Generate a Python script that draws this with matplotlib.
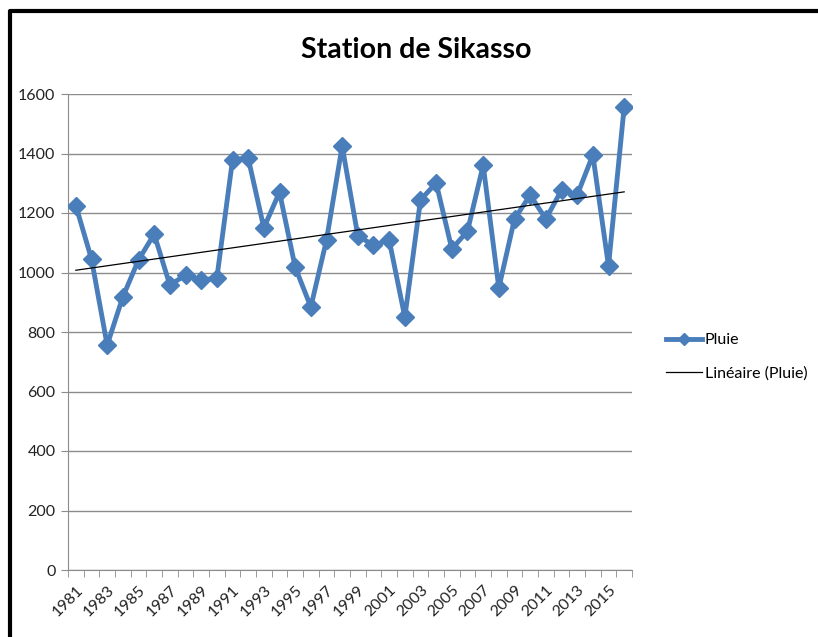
import numpy as np
import matplotlib
matplotlib.use('Agg')
import matplotlib.pyplot as plt
from matplotlib.lines import Line2D

plt.rcParams['font.family'] = ['Lato', 'DejaVu Sans']

# Annual rainfall, Sikasso station
years = list(range(1981, 2017))
pluie = [1225, 1045, 756, 918, 1042, 1129, 958, 991, 975, 981,
         1378, 1385, 1150, 1270, 1018, 884, 1109, 1425, 1123, 1092,
         1109, 850, 1244, 1301, 1079, 1139, 1361, 948, 1180, 1260,
         1180, 1277, 1260, 1395, 1022, 1556]
yticks = [0, 200, 400, 600, 800, 1000, 1200, 1400, 1600]

blue = '#4a7ebb'
W, H = 818, 637

fig = plt.figure(figsize=(W / 100, H / 100), dpi=100)
ax = fig.add_axes([68 / W, 1 - 570 / H, (632 - 68) / W, (570 - 94) / H])

x = np.arange(len(years))
ax.plot(x, pluie, color=blue, lw=3.5, marker='D', markersize=9.5, zorder=3)

# linear trend, like Excel's "Linéaire"
a, b = np.polyfit(x, pluie, 1)
ax.plot(x, a * x + b, color='black', lw=0.9, zorder=4)

ax.set_xlim(-0.5, len(years) - 0.5)
ax.set_ylim(0, 1600)
ax.set_yticks(yticks)
ax.yaxis.grid(True, color='#8c8c8c', lw=1)
ax.set_axisbelow(True)

ax.set_xticks(x[::2])
ax.set_xticklabels([str(y) for y in years[::2]], rotation=45, ha='right',
                   rotation_mode='anchor', fontsize=11.5, color='#222222')
ax.set_xticks(np.arange(-0.5, len(years), 1), minor=True)
ax.tick_params(axis='x', which='major', length=0, pad=9)
ax.tick_params(axis='x', which='minor', length=5, color='#8c8c8c', direction='out')
ax.tick_params(axis='y', length=5, color='#8c8c8c', labelsize=11.5,
               labelcolor='#222222', pad=4)

for s in ['top', 'right']:
    ax.spines[s].set_visible(False)
for s in ['left', 'bottom']:
    ax.spines[s].set_color('#8c8c8c')

fig.text(416 / W, 1 - 50 / H, 'Station de Sikasso', ha='center', va='center',
         fontsize=20.5, fontweight='bold', color='black')

handles = [Line2D([], [], color=blue, lw=3.5, marker='D', markersize=6),
           Line2D([], [], color='black', lw=0.9)]
fig.legend(handles, ['Pluie', 'Linéaire (Pluie)'], loc='center left',
           bbox_to_anchor=(652 / W, 1 - 357 / H), frameon=False,
           fontsize=11.5, handlelength=2.2, handletextpad=0.2, labelspacing=1.2)

# chart frame (left and top edges visible)
fig.add_artist(Line2D([10 / W, 10 / W, 1.0], [0.0, 1 - 11 / H, 1 - 11 / H],
                      color='black', lw=3, transform=fig.transFigure))

fig.savefig('out.png', dpi=100)
